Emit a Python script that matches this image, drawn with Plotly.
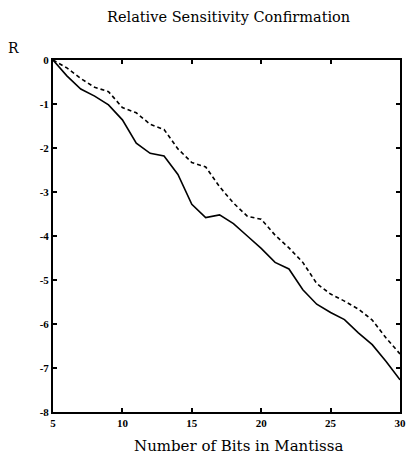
import plotly.graph_objects as go

bits = list(range(5, 31))
solid_r = [0, -0.36, -0.66, -0.82, -1.02, -1.36, -1.89, -2.12, -2.18, -2.6, -3.28, -3.58, -3.52,
           -3.72, -4.0, -4.28, -4.6, -4.75, -5.22, -5.55, -5.74, -5.9, -6.2, -6.47, -6.85, -7.27]
dashed_r = [0, -0.18, -0.42, -0.62, -0.72, -1.08, -1.2, -1.46, -1.58, -2.02, -2.33, -2.43, -2.88,
            -3.25, -3.55, -3.62, -3.98, -4.27, -4.6, -5.08, -5.32, -5.48, -5.66, -5.91, -6.32, -6.68]
x_ticks = [5, 10, 15, 20, 25, 30]
y_ticks = [0, -1, -2, -3, -4, -5, -6, -7, -8]

fig = go.Figure()
fig.add_trace(go.Scatter(x=bits, y=solid_r, mode="lines",
                         line=dict(color="black", width=1.6), showlegend=False))
fig.add_trace(go.Scatter(x=bits, y=dashed_r, mode="lines",
                         line=dict(color="black", width=1.6, dash="4px,3px"), showlegend=False))

tickfont = dict(family="Liberation Serif", size=11, color="black", weight="bold")
fig.update_layout(
    width=413, height=459,
    margin=dict(l=53, r=7, t=60, b=47),
    paper_bgcolor="white", plot_bgcolor="white",
    font=dict(family="Liberation Serif", color="black"),
    xaxis=dict(range=[5, 30], tickvals=x_ticks, ticktext=[str(v) for v in x_ticks],
               ticks="inside", ticklen=4, tickwidth=1.5, tickcolor="black",
               showline=True, linecolor="black", linewidth=2, mirror="ticks",
               showgrid=False, zeroline=False, tickfont=tickfont),
    yaxis=dict(range=[-8, 0], tickvals=y_ticks, ticktext=[str(v) for v in y_ticks],
               ticks="inside", ticklen=4, tickwidth=1.5, tickcolor="black",
               showline=True, linecolor="black", linewidth=2, mirror="ticks",
               showgrid=False, zeroline=False, tickfont=tickfont),
)
fig.add_annotation(text="Relative Sensitivity Confirmation", xref="paper", yref="paper",
                   x=0.505, y=1, yshift=53, showarrow=False,
                   font=dict(family="DejaVu Serif", size=14.5, color="black"))
fig.add_annotation(text="R", xref="paper", yref="paper", x=-0.135, y=1, yshift=22,
                   showarrow=False, font=dict(family="DejaVu Serif", size=14, color="black"))
fig.add_annotation(text="Number of Bits in Mantissa", xref="paper", yref="paper",
                   x=0.535, y=0, yshift=-45, showarrow=False,
                   font=dict(family="DejaVu Serif", size=15, color="black"))
fig.write_html("out.html", config={"displayModeBar": False},
               post_script="document.body.style.margin='0px';")
